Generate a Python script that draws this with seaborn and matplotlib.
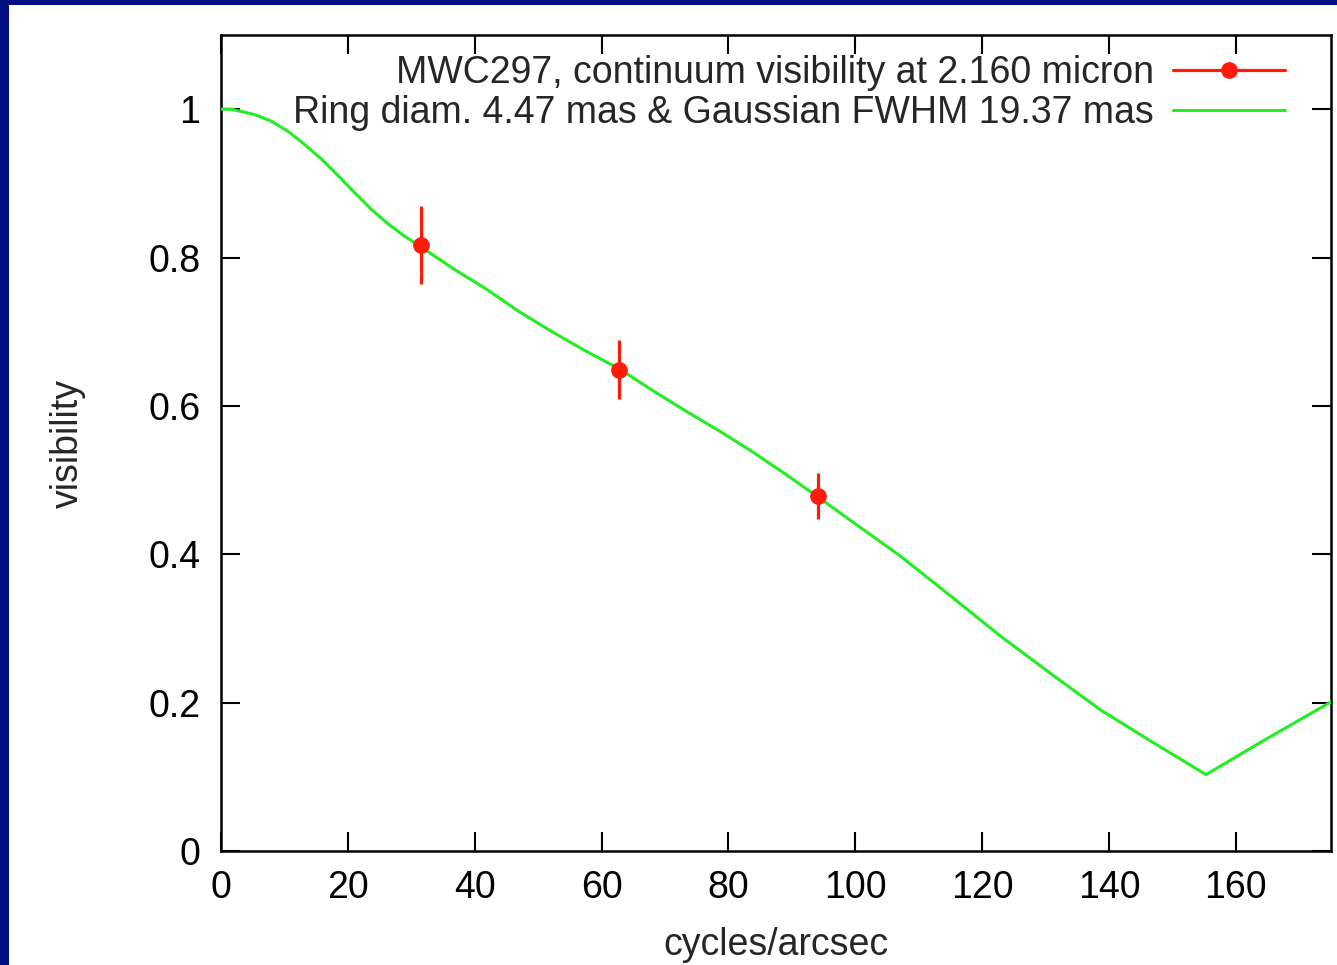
import matplotlib
matplotlib.use('Agg')
import matplotlib.pyplot as plt
from matplotlib.lines import Line2D
from matplotlib.patches import Rectangle
import seaborn as sns
import pandas as pd

# Do thi tuong tu gnuplot: visibility theo cycles/arcsec
obs_u = [31.5, 62.7, 94.1]
obs_v = [0.817, 0.649, 0.479]
obs_err = [0.053, 0.040, 0.031]

# Duong mo hinh, doc tu hinh
model_u = [0, 1.6, 5.2, 7.9, 10.6, 13.1, 15.8, 18.5, 21, 23.7, 26.4, 28.9, 31.6,
           36.8, 42.1, 47, 52.4, 57.5, 63, 68, 73.5, 79, 84, 89, 94, 100.5, 107.2,
           115, 123, 131, 138.7, 147, 155.3, 165, 175]
model_v = [1.0, 1.0, 0.993, 0.984, 0.970, 0.953, 0.933, 0.910, 0.888, 0.865, 0.845,
           0.829, 0.814, 0.784, 0.756, 0.727, 0.699, 0.674, 0.649, 0.621, 0.592,
           0.564, 0.537, 0.508, 0.478, 0.438, 0.397, 0.344, 0.289, 0.238, 0.19,
           0.146, 0.103, 0.152, 0.201]

obs_label = 'MWC297, continuum visibility at 2.160 micron'
model_label = 'Ring diam. 4.47 mas & Gaussian FWHM 19.37 mas'

x_ticks = [0, 20, 40, 60, 80, 100, 120, 140, 160]
y_ticks = [0, 0.2, 0.4, 0.6, 0.8, 1.0]
y_tick_labels = ['0', '0.2', '0.4', '0.6', '0.8', '1']

sns.set_theme(style='ticks')
plt.rcParams['font.family'] = ['Liberation Sans', 'DejaVu Sans']

fig = plt.figure(figsize=(13.37, 9.65), dpi=100)
fig.patch.set_facecolor('#001080')
fig.patches.append(Rectangle((9 / 1337, 0), 1, 960 / 965, transform=fig.transFigure,
                             facecolor='white', edgecolor='none', zorder=-5))

ax = fig.add_axes([221 / 1337, 114 / 965, 1110 / 1337, 816 / 965])
ax.set_facecolor('white')

df_model = pd.DataFrame({'u': model_u, 'v': model_v})
sns.lineplot(data=df_model, x='u', y='v', ax=ax, color='#22ee22', linewidth=2.2,
             sort=False, zorder=3)

ax.errorbar(obs_u, obs_v, yerr=obs_err, fmt='o', color='#ff1a0a', markersize=11,
            elinewidth=2.3, capsize=0, zorder=4)

ax.set_xlim(0, 175)
ax.set_ylim(0, 1.1)
ax.set_xticks(x_ticks)
ax.set_yticks(y_ticks)
ax.set_yticklabels(y_tick_labels)

for s in ax.spines.values():
    s.set_visible(True)
    s.set_linewidth(1.8)
    s.set_color('black')

ax.tick_params(axis='both', direction='in', length=14, width=1.5, labelsize=27,
               top=True, right=True, colors='black')
ax.tick_params(axis='x', pad=14)
ax.tick_params(axis='y', pad=15)

ax.set_xlabel('cycles/arcsec', fontsize=27, labelpad=15)
ax.set_ylabel('visibility', fontsize=27, labelpad=45)

handles = [Line2D([], [], color='#ff1a0a', linewidth=2.3, marker='o', markersize=11),
           Line2D([], [], color='#22ee22', linewidth=2.2)]
leg = ax.legend(handles, [obs_label, model_label], loc='upper right', frameon=False,
                markerfirst=False, fontsize=27, handlelength=3.0, handletextpad=0.5,
                labelspacing=0.1, borderaxespad=0.0, borderpad=0.0,
                bbox_to_anchor=(1064 / 1110, 1 - 20 / 816))

fig.savefig('out.png', dpi=100, facecolor=fig.get_facecolor())
